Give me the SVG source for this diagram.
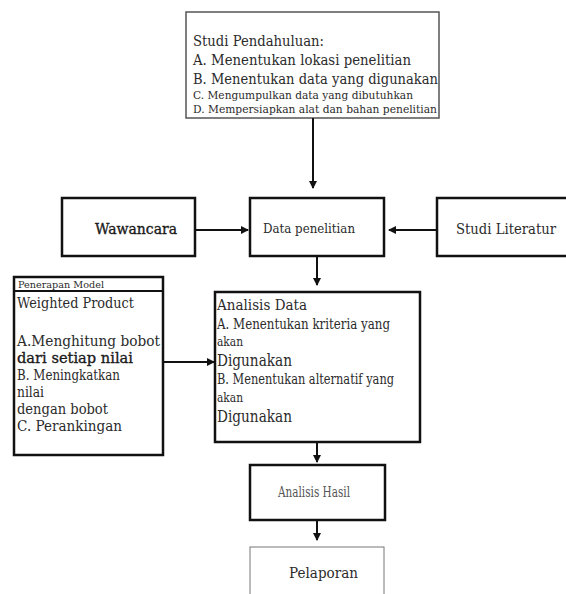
<svg xmlns="http://www.w3.org/2000/svg" width="566" height="594" viewBox="0 0 566 594">
<style>
text{font-family:"DejaVu Serif","Liberation Serif",serif;fill:#2b2b2b}
.box{fill:#fff;stroke:#111;stroke-width:2.5}
.thin{fill:#fff;stroke:#555;stroke-width:1.5}
.semi{fill:#1a1a1a;stroke:#1a1a1a;stroke-width:0.35}
.edge{stroke:#111;stroke-width:2;fill:none;marker-end:url(#ah)}
</style>
<defs>
<marker id="ah" viewBox="0 0 8 8" refX="7" refY="4" markerWidth="4" markerHeight="4" orient="auto" markerUnits="strokeWidth">
<path d="M0,0 L8,4 L0,8 Z" fill="#111"/>
</marker>
</defs>
<rect width="566" height="594" fill="#fff"/>
<g id="studi-pendahuluan">
<rect class="thin" x="186" y="12" width="253" height="106"/>
<text x="193" y="46" font-size="14.5" textLength="131" lengthAdjust="spacingAndGlyphs">Studi Pendahuluan:</text>
<text x="193" y="65" font-size="15" textLength="218" lengthAdjust="spacingAndGlyphs">A. Menentukan lokasi penelitian</text>
<text x="193" y="84" font-size="15" textLength="245" lengthAdjust="spacingAndGlyphs">B. Menentukan data yang digunakan</text>
<text x="193" y="99" font-size="10.5" textLength="220" lengthAdjust="spacingAndGlyphs">C. Mengumpulkan data yang dibutuhkan</text>
<text x="193" y="113" font-size="10.5" textLength="244" lengthAdjust="spacingAndGlyphs">D. Mempersiapkan alat dan bahan penelitian</text>
</g>
<g id="wawancara">
<rect class="box" x="62" y="198" width="133" height="58"/>
<text class="semi" x="95" y="234" font-size="14.5" textLength="82" lengthAdjust="spacingAndGlyphs">Wawancara</text>
</g>
<g id="data-penelitian">
<rect class="box" x="250" y="198" width="134" height="58"/>
<text x="263" y="233" font-size="13.5" textLength="92" lengthAdjust="spacingAndGlyphs">Data penelitian</text>
</g>
<g id="studi-literatur">
<rect class="box" x="437" y="198" width="140" height="58"/>
<text x="456" y="234" font-size="14.5" textLength="100" lengthAdjust="spacingAndGlyphs">Studi Literatur</text>
</g>
<g id="penerapan-model">
<rect class="box" x="14" y="277" width="149" height="178" stroke-width="3"/>
<line x1="14" y1="291" x2="163" y2="291" stroke="#111" stroke-width="2"/>
<text x="18" y="288" font-size="9.5" textLength="86" lengthAdjust="spacingAndGlyphs">Penerapan Model</text>
<text x="17" y="308" font-size="15.5" textLength="117" lengthAdjust="spacingAndGlyphs">Weighted Product</text>
<text x="17" y="346" font-size="15.5" textLength="143" lengthAdjust="spacingAndGlyphs">A.Menghitung bobot</text>
<text class="semi" x="17" y="363" font-size="15.5" textLength="116" lengthAdjust="spacingAndGlyphs">dari setiap nilai</text>
<text x="17" y="380" font-size="14.5" textLength="103" lengthAdjust="spacingAndGlyphs">B. Meningkatkan</text>
<text x="17" y="397" font-size="14.5" textLength="27" lengthAdjust="spacingAndGlyphs">nilai</text>
<text x="17" y="414" font-size="15.5" textLength="91" lengthAdjust="spacingAndGlyphs">dengan bobot</text>
<text x="17" y="431" font-size="15.5" textLength="105" lengthAdjust="spacingAndGlyphs">C. Perankingan</text>
</g>
<g id="analisis-data">
<rect class="box" x="215" y="292" width="205" height="150"/>
<text x="217" y="310" font-size="15.5" textLength="90" lengthAdjust="spacingAndGlyphs">Analisis Data</text>
<text x="217" y="329" font-size="14" textLength="173" lengthAdjust="spacingAndGlyphs">A. Menentukan kriteria yang</text>
<text x="217" y="346" font-size="13" textLength="26" lengthAdjust="spacingAndGlyphs">akan</text>
<text x="217" y="366" font-size="16" textLength="75" lengthAdjust="spacingAndGlyphs">Digunakan</text>
<text x="217" y="384" font-size="14" textLength="177" lengthAdjust="spacingAndGlyphs">B. Menentukan alternatif yang</text>
<text x="217" y="402" font-size="13" textLength="26" lengthAdjust="spacingAndGlyphs">akan</text>
<text x="217" y="422" font-size="16" textLength="75" lengthAdjust="spacingAndGlyphs">Digunakan</text>
</g>
<g id="analisis-hasil">
<rect class="box" x="250" y="465" width="135" height="55"/>
<text x="278" y="497" font-size="14" fill="#555" style="fill:#555" textLength="72" lengthAdjust="spacingAndGlyphs">Analisis Hasil</text>
</g>
<g id="pelaporan">
<rect x="250" y="547" width="134" height="60" fill="#fff" stroke="#777" stroke-width="1"/>
<text x="289" y="578" font-size="14.5" textLength="69" lengthAdjust="spacingAndGlyphs">Pelaporan</text>
</g>
<g id="connectors">
<line class="edge" x1="313" y1="118" x2="313" y2="188"/>
<line class="edge" x1="195" y1="230" x2="248" y2="230"/>
<line class="edge" x1="437" y1="230" x2="389" y2="230"/>
<line class="edge" x1="317" y1="257" x2="317" y2="285"/>
<line class="edge" x1="163" y1="362" x2="214" y2="362"/>
<line class="edge" x1="317" y1="443" x2="317" y2="462"/>
<line class="edge" x1="317" y1="521" x2="317" y2="540"/>
</g>
</svg>
